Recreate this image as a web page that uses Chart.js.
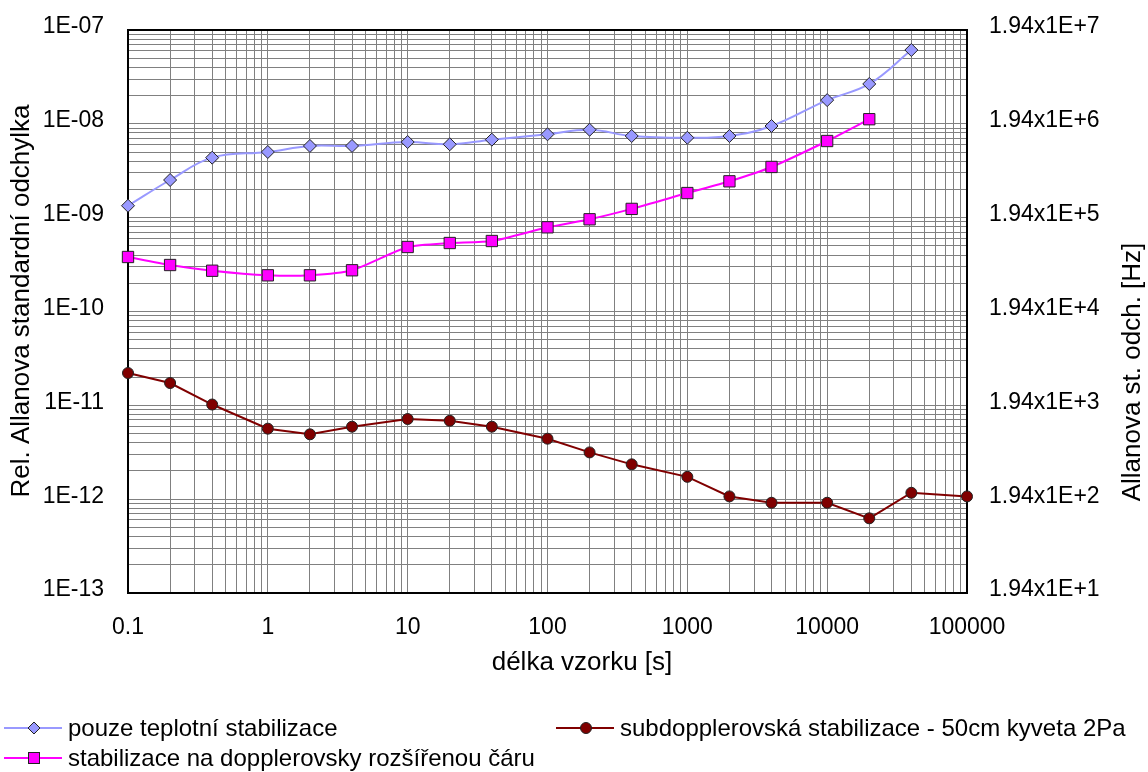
<!DOCTYPE html>
<html><head><meta charset="utf-8">
<script src="https://cdn.jsdelivr.net/npm/chart.js@4/dist/chart.umd.min.js"></script>
<style>
html,body{margin:0;padding:0;background:#fff;}
#wrap{position:relative;width:1148px;height:772px;overflow:hidden;}
canvas{position:absolute;left:0;top:0;}
.leg{position:absolute;font-family:"Liberation Sans",Arial,sans-serif;font-size:24px;color:#000;display:flex;align-items:center;white-space:nowrap;line-height:26px;}
.leg svg{margin-right:6px;flex:none;}
</style></head><body>
<div id="wrap">
<canvas id="c" width="1148" height="772"></canvas>
<div class="leg" style="left:4px;top:715px"><svg width="58" height="26"><line x1="0" y1="13" x2="58" y2="13" stroke="#9999FF" stroke-width="2"/><polygon points="30,7 36,13 30,19 24,13" fill="#9999FF" stroke="#222" stroke-width="1"/></svg>pouze teplotní stabilizace</div>
<div class="leg" style="left:4px;top:745px"><svg width="58" height="26"><line x1="0" y1="13" x2="58" y2="13" stroke="#FF00FF" stroke-width="2"/><rect x="24.5" y="7.5" width="11" height="11" fill="#FF00FF" stroke="#222" stroke-width="1"/></svg>stabilizace na dopplerovsky rozšířenou čáru</div>
<div class="leg" style="left:556px;top:715px"><svg width="58" height="26"><line x1="0" y1="13" x2="58" y2="13" stroke="#800000" stroke-width="2"/><circle cx="30" cy="13" r="5.5" fill="#800000" stroke="#222" stroke-width="1"/></svg>subdopplerovská stabilizace - 50cm kyveta 2Pa</div>
</div>
<script>
// ---- data ----
const xValues = [0.1, 0.2, 0.4, 1, 2, 4, 10, 20, 40, 100, 200, 400, 1000, 2000, 4000, 10000, 20000, 40000, 100000];
const teplotni = [1.34e-9, 2.52e-9, 4.36e-9, 5.01e-9, 5.81e-9, 5.81e-9, 6.40e-9, 6.05e-9, 6.78e-9, 7.73e-9, 8.65e-9, 7.42e-9, 7.11e-9, 7.42e-9, 9.48e-9, 1.79e-8, 2.66e-8, 6.12e-8];
const doppler = [3.81e-10, 3.13e-10, 2.72e-10, 2.43e-10, 2.43e-10, 2.75e-10, 4.87e-10, 5.37e-10, 5.64e-10, 7.89e-10, 9.61e-10, 1.24e-9, 1.83e-9, 2.44e-9, 3.47e-9, 6.56e-9, 1.12e-8];
const subdoppler = [2.21e-11, 1.73e-11, 1.02e-11, 5.64e-12, 4.91e-12, 5.92e-12, 7.15e-12, 6.85e-12, 5.92e-12, 4.41e-12, 3.15e-12, 2.35e-12, 1.73e-12, 1.07e-12, 9.16e-13, 9.16e-13, 6.25e-13, 1.17e-12, 1.07e-12];
const seriesNames = ['pouze teplotní stabilizace', 'stabilizace na dopplerovsky rozšířenou čáru', 'subdopplerovská stabilizace - 50cm kyveta 2Pa'];
const xTickLabels = ['0.1', '1', '10', '100', '1000', '10000', '100000'];
const yTickLabels = ['1E-13', '1E-12', '1E-11', '1E-10', '1E-09', '1E-08', '1E-07'];
const y2TickLabels = ['1.94x1E+1', '1.94x1E+2', '1.94x1E+3', '1.94x1E+4', '1.94x1E+5', '1.94x1E+6', '1.94x1E+7'];
const xTitle = 'délka vzorku [s]';
const yTitle = 'Rel. Allanova standardní odchylka';
const y2Title = 'Allanova st. odch. [Hz]';

const pts = (vals) => vals.map((v, i) => ({x: xValues[i], y: v}));
const FONT = '"Liberation Sans", Arial, sans-serif';

function logTicks(minExp, maxExp) {
  const t = [];
  for (let e = minExp; e < maxExp; e++) {
    for (let m = 1; m <= 9; m++) t.push({value: parseFloat((m * Math.pow(10, e)).toPrecision(6))});
  }
  t.push({value: Math.pow(10, maxExp)});
  return t;
}

const framePlugin = {
  id: 'frame',
  beforeDatasetsDraw(chart) {
    const {ctx, chartArea: a} = chart;
    ctx.save();
    ctx.strokeStyle = '#000';
    ctx.lineWidth = 2;
    ctx.strokeRect(a.left, a.top, a.right - a.left, a.bottom - a.top);
    ctx.restore();
  },
  afterDraw(chart) {
    const {ctx} = chart;
    ctx.save();
    ctx.fillStyle = '#000';
    ctx.font = '26px ' + FONT;
    ctx.textAlign = 'center';
    ctx.textBaseline = 'middle';
    ctx.fillText(xTitle, 582, 663);
    ctx.save();
    ctx.translate(22, 301);
    ctx.rotate(-Math.PI / 2);
    ctx.fillText(yTitle, 0, 0);
    ctx.restore();
    ctx.save();
    ctx.translate(1133, 372);
    ctx.rotate(-Math.PI / 2);
    ctx.fillText(y2Title, 0, 0);
    ctx.restore();
    ctx.restore();
  }
};

function fixVertical(w) {
  return (s) => { s.width = w; s.paddingTop = 0; s.paddingBottom = 0; };
}

new Chart(document.getElementById('c'), {
  type: 'line',
  data: {
    datasets: [
      {label: seriesNames[0], data: pts(teplotni), borderColor: '#9999FF', backgroundColor: '#9999FF',
       borderWidth: 2, pointStyle: 'rectRot', pointRadius: 6.5, pointBorderColor: '#222', pointBorderWidth: 1,
       tension: 0.4, clip: false, yAxisID: 'y'},
      {label: seriesNames[1], data: pts(doppler), borderColor: '#FF00FF', backgroundColor: '#FF00FF',
       borderWidth: 2, pointStyle: 'rect', pointRadius: 8, pointBorderColor: '#222', pointBorderWidth: 1,
       tension: 0.2, clip: false, yAxisID: 'y'},
      {label: seriesNames[2], data: pts(subdoppler), borderColor: '#800000', backgroundColor: '#800000',
       borderWidth: 2, pointStyle: 'circle', pointRadius: 5.5, pointBorderColor: '#222', pointBorderWidth: 1,
       tension: 0, clip: false, yAxisID: 'y'}
    ]
  },
  options: {
    responsive: false,
    devicePixelRatio: 1,
    animation: false,
    layout: {padding: {top: 30, left: 0, right: 0, bottom: 90}},
    plugins: {legend: {display: false}, tooltip: {enabled: false}},
    scales: {
      x: {
        type: 'logarithmic', position: 'bottom', min: 0.1, max: 100000,
        afterBuildTicks: (s) => { s.ticks = logTicks(-1, 5); },
        afterFit: (s) => { s.height = 89; },
        grid: {color: '#808080', lineWidth: 1, drawTicks: false},
        border: {display: false},
        ticks: {autoSkip: false, maxRotation: 0, padding: 21, color: '#000', font: {family: FONT, size: 23},
          callback: (v, i) => (i % 9 === 0 ? xTickLabels[i / 9] : '')}
      },
      y: {
        type: 'logarithmic', position: 'left', min: 1e-13, max: 1e-7,
        afterBuildTicks: (s) => { s.ticks = logTicks(-13, -7); },
        afterFit: fixVertical(128),
        grid: {color: '#808080', lineWidth: 1, drawTicks: false},
        border: {display: false},
        ticks: {autoSkip: false, padding: 24, labelOffset: -3, color: '#000', font: {family: FONT, size: 23},
          callback: (v, i) => (i % 9 === 0 ? yTickLabels[i / 9] : '')}
      },
      y2: {
        type: 'logarithmic', position: 'right', min: 19.4, max: 1.94e7,
        afterBuildTicks: (s) => { s.ticks = y2TickLabels.map((_, i) => ({value: 1.94 * Math.pow(10, i + 1)})); },
        afterFit: fixVertical(181),
        grid: {display: false, drawTicks: false},
        border: {display: false},
        ticks: {autoSkip: false, padding: 22, labelOffset: -3, color: '#000', font: {family: FONT, size: 23},
          callback: (v, i) => y2TickLabels[i]}
      }
    }
  },
  plugins: [framePlugin]
});
</script>
</body></html>
